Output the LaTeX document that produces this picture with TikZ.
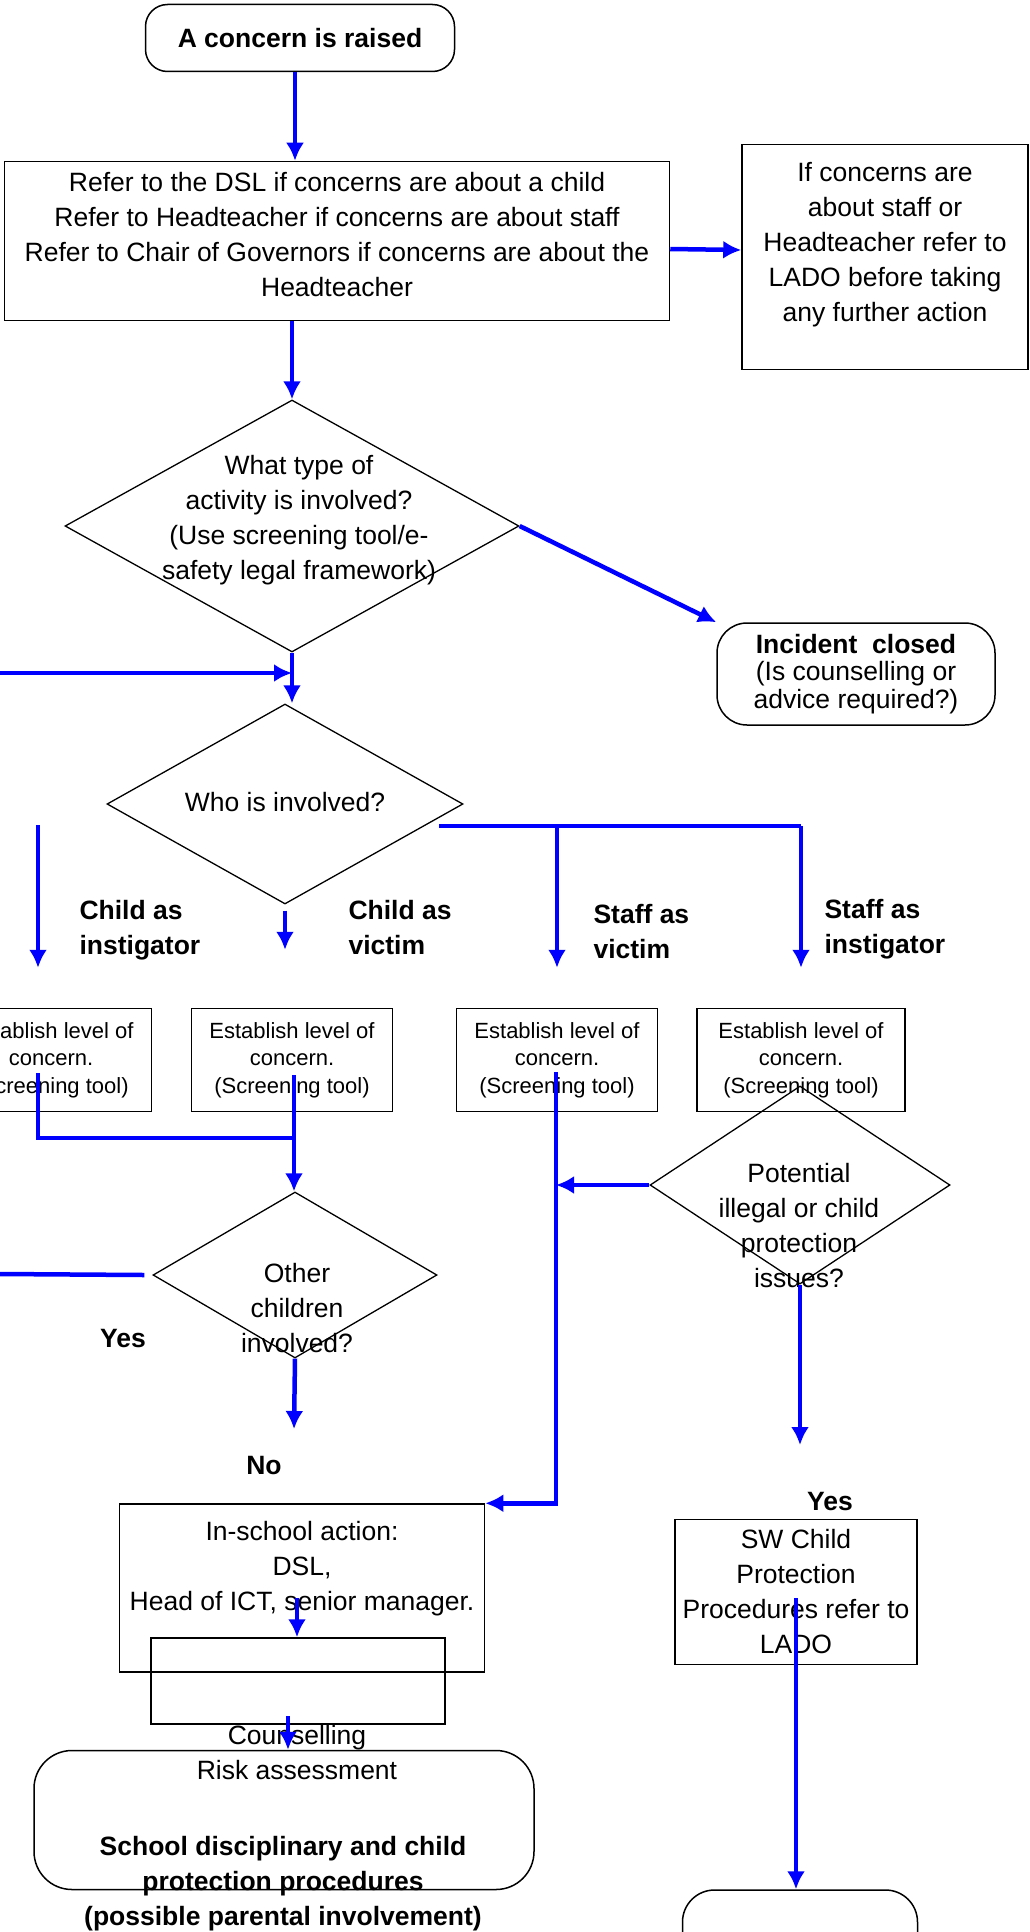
\documentclass[tikz,border=0pt]{standalone}
\usepackage{fontspec}
\setmainfont{Liberation Sans}
\usetikzlibrary{shapes.geometric,arrows.meta,calc}

\newcommand{\bodysize}{\fontsize{26.5}{35}\selectfont}
\newcommand{\tightsize}{\fontsize{26.5}{27.5}\selectfont}
\newcommand{\smallsize}{\fontsize{22}{27.5}\selectfont}

\begin{document}
\begin{tikzpicture}[x=1pt,y=-1pt,>={Latex[length=18pt,width=18pt]},
  box/.style={draw,line width=1.5pt,inner sep=0pt,align=center},
  rbox/.style={box,rounded corners=30pt},
  decision/.style={diamond,draw,line width=1.3pt,inner sep=0pt},
  txt/.style={align=center,font=\bodysize},
  lbl/.style={align=left,anchor=west,font=\bodysize\bfseries},
  flow/.style={->,blue,line width=4.5pt},
  link/.style={blue,line width=4.5pt}]
\useasboundingbox (0,0) rectangle (1029,1932);

\node[rbox,rounded corners=22pt,minimum width=309,minimum height=67,font=\bodysize\bfseries] (raised) at (300,38) {A concern is raised};
\node[box,minimum width=665,minimum height=159] (refer) at (337,241) {};
\node[txt] (refertext) at (337,235) {Refer to the DSL if concerns are about a child\\Refer to Headteacher if concerns are about staff\\Refer to Chair of Governors if concerns are about the\\Headteacher};
\node[box,minimum width=286,minimum height=225] (lado) at (885,257) {};
\node[txt] (ladotext) at (885,245) {If concerns are\\about staff or\\Headteacher refer to\\LADO before taking\\any further action};

\node[decision,minimum width=454,minimum height=252] (type) at (292,526) {};
\node[txt] (typetext) at (299,520) {What type of\\activity is involved?\\(Use screening tool/e-\\safety legal framework)};
\node[rbox,minimum width=278,minimum height=102,font=\tightsize] (closed) at (856,674) {\textbf{Incident\ \ closed}\\(Is counselling or\\advice required?)};

\node[decision,minimum width=356,minimum height=200] (who) at (285,804) {};
\node[txt] (whotext) at (285,802) {Who is involved?};

\node[lbl] (cinst) at (76,930) {Child as\\instigator};
\node[lbl] (cvict) at (345,928) {Child as\\victim};
\node[lbl] (svict) at (590,932) {Staff as\\victim};
\node[lbl] (sinst) at (821,929) {Staff as\\instigator};

\node[box,minimum width=201,minimum height=103,font=\smallsize] (est1) at (51,1060) {Establish level of\\concern.\\(Screening tool)};
\node[box,minimum width=201,minimum height=103,font=\smallsize] (est2) at (292,1060) {Establish level of\\concern.\\(Screening tool)};
\node[box,minimum width=201,minimum height=103,font=\smallsize] (est3) at (557,1060) {Establish level of\\concern.\\(Screening tool)};
\node[box,minimum width=208,minimum height=103,font=\smallsize] (est4) at (801,1060) {Establish level of\\concern.\\(Screening tool)};

\node[decision,minimum width=284,minimum height=166] (other) at (295,1275) {};
\node[txt] (othertext) at (297,1308) {Other\\children\\involved?};
\node[decision,minimum width=300,minimum height=198] (potential) at (800,1185) {};
\node[txt] (potentialtext) at (799,1226) {Potential\\illegal or child\\protection\\issues?};

\node[lbl,anchor=center] (yes1) at (123,1338) {Yes};
\node[lbl,anchor=center] (no) at (264,1465) {No};
\node[lbl,anchor=center] (yes2) at (830,1501) {Yes};

\node[box,minimum width=365,minimum height=168] (school) at (302,1588) {};
\node[txt] (schooltext) at (302,1569) {In-school action:\\DSL,\\Head of ICT, senior manager.};
\node[box,minimum width=294,minimum height=86] (inner) at (298,1681) {};
\node[rbox,rounded corners=38pt,minimum width=500,minimum height=139] (discipline) at (284,1820) {};
\node[txt] (counsel) at (297,1753) {Counselling\\Risk assessment};
\node[txt,font=\bodysize\bfseries] (proc) at (283,1884) {School disciplinary and child\\protection procedures\\(possible parental involvement)};

\node[box,minimum width=242,minimum height=145,font=\bodysize] (sw) at (796,1592) {SW Child\\Protection\\Procedures refer to\\LADO};
\node[rbox,rounded corners=32pt,minimum width=235,minimum height=140] (final) at (800,1960) {};

\coordinate (fromleft) at (0,673);
\coordinate (split) at (439,826);
\coordinate (cleft) at (38,825);
\coordinate (j1) at (38,1073);
\coordinate (j2) at (294,1138);
\coordinate (j3) at (294,1075);
\coordinate (j4) at (556,1072);
\coordinate (oleft) at (0,1274);
\coordinate (nodrop) at (294,1429);
\coordinate (yesdrop) at (800,1445);
\coordinate (k1) at (297,1598);
\coordinate (k2) at (288,1716);
\coordinate (k3) at (796,1598);

\draw[flow] ($(raised.south)+(-5,0)$) -- ($(raised.south |- refer.north)+(-5,0)$);
\draw[flow] ($(refer.east)+(0,8)$) -- ($(lado.west)+(0,-7)$);
\draw[flow] (refer.south -| type.north) -- (type.north);
\draw[flow] (type.east) -- (closed.north west);
\draw[flow] (fromleft) -- (fromleft -| type.south);
\draw[flow] (type.south) -- (type.south |- who.north);

\draw[link] (split) -- (split -| est4.north);
\draw[flow,shorten >=40pt] (split -| est3.north) -- (est3.north);
\draw[flow,shorten >=40pt] (split -| est4.north) -- (est4.north);
\draw[flow,shorten >=40pt] (cleft) -- (cleft |- est1.north);
\draw[flow,shorten <=6pt,shorten >=58pt] (who.south) -- (who.south |- est2.north);

\draw[link] (j1) |- (j2);
\draw[flow] (j3) -- (j3 |- other.north);
\draw[flow] (j4) |- (school.north east);
\draw[flow] (potential.west) -- (potential.west -| j4);
\draw[flow] (potential.south) -- (yesdrop);
\draw[link] (oleft) -- ($(other.west)+(-8,0)$);
\draw[flow] (other.south) -- (nodrop);

\draw[flow] (k1) -- (k1 |- inner.north);
\draw[flow] (k2) -- (k2 |- discipline.north);
\draw[flow] (k3) -- (k3 |- final.north);
\end{tikzpicture}
\end{document}
